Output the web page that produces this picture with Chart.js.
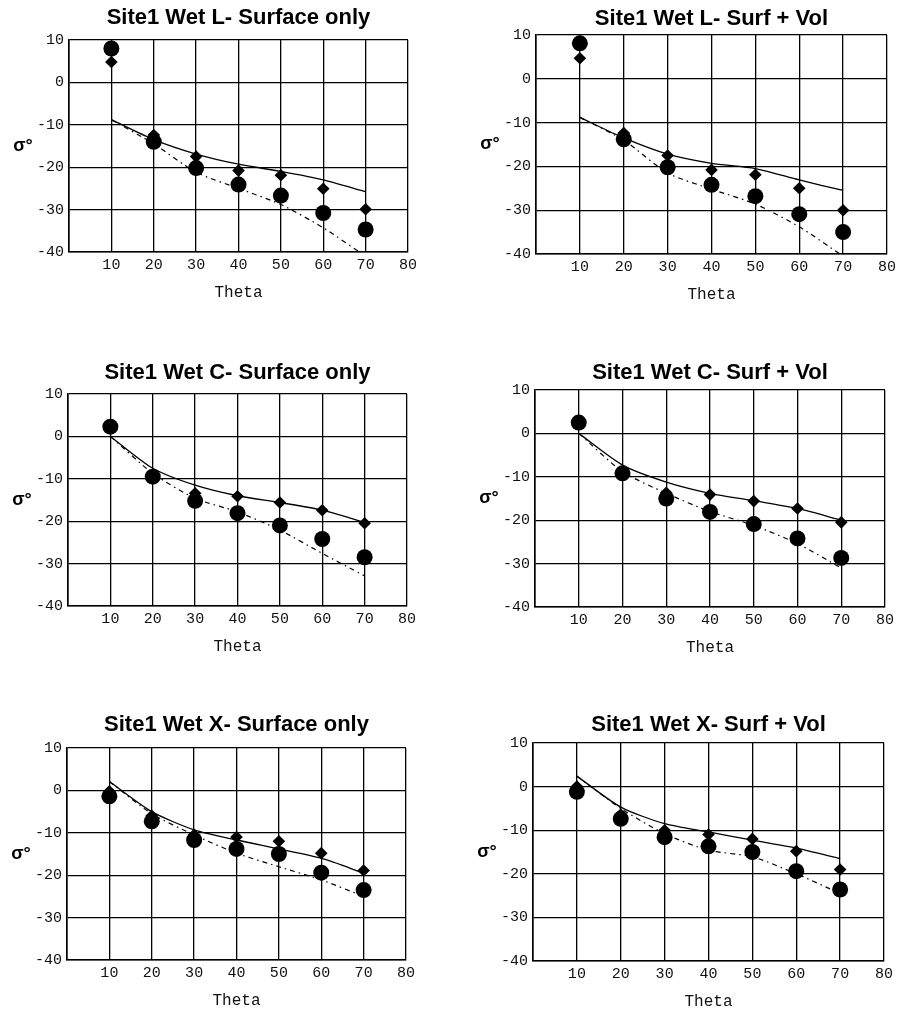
<!DOCTYPE html>
<html>
<head>
<meta charset="utf-8">
<script src="https://cdn.jsdelivr.net/npm/chart.js@4.4.0/dist/chart.umd.min.js"></script>
<style>
  html, body { margin: 0; padding: 0; background: #fff; overflow: hidden; width: 898px; height: 1011px; }
  canvas { position: absolute; }
</style>
</head>
<body>
<canvas id="c1"></canvas>
<canvas id="c2"></canvas>
<canvas id="c3"></canvas>
<canvas id="c4"></canvas>
<canvas id="c5"></canvas>
<canvas id="c6"></canvas>
<script>
const theta = [10, 20, 30, 40, 50, 60, 70];
const xTicks = [0, 10, 20, 30, 40, 50, 60, 70, 80];
const yTicks = [-40, -30, -20, -10, 0, 10];

// L band
const lSurfCircles  = [8, -14, -20.2, -24.1, -26.7, -30.8, -34.7];
const lSurfDiamonds = [4.8, -12.4, -17.5, -20.8, -21.9, -25.1, -29.9];
const lSurfSolid    = [-8.8, -13.5, -16.9, -19.3, -21, -23, -25.8];
const lSurfDashed   = [-8.8, -14.5, -21.2, -25, -28.8, -34.3, -41];

const lVolCircles  = [8.1, -13.8, -20.2, -24.2, -26.8, -30.9, -35];
const lVolDiamonds = [4.7, -12.4, -17.5, -20.8, -21.9, -25, -30];
const lVolSolid    = [-8.8, -13.5, -17.2, -19.3, -20.5, -23.1, -25.5];
const lVolDashed   = [-8.8, -14, -21.5, -25.2, -28.6, -33.8, -40.5];

// C band
const cSurfCircles  = [2.3, -9.5, -15.2, -18.1, -21, -24.2, -28.5];
const cSurfDiamonds = [2.3, -9, -13.4, -14.1, -15.6, -17.4, -20.5];
const cSurfSolid    = [0, -7.5, -11.5, -14, -15.6, -17.4, -20.3];
const cSurfDashed   = [0, -8.7, -14.6, -17.8, -22.1, -27.6, -32.9];

const cVolCircles  = [2.5, -9.2, -15, -18.1, -20.9, -24.2, -28.7];
const cVolDiamonds = [2.5, -9, -13.7, -14.1, -15.6, -17.3, -20.5];
const cVolSolid    = [0, -7.3, -11.2, -13.8, -15.5, -17.3, -20];
const cVolDashed   = [0, -8.8, -13.8, -18, -21.2, -25.4, -31];

// X band
const xSurfCircles  = [-1.4, -7.3, -11.7, -13.8, -15, -19.4, -23.5];
const xSurfDiamonds = [-0.2, -6, -10.5, -11, -12, -14.8, -18.9];
const xSurfSolid    = [2.1, -5, -9.3, -11.7, -13.8, -16, -19.5];
const xSurfDashed   = [2.1, -5.5, -10.5, -14.8, -18, -21.1, -25];

const xVolCircles  = [-1.2, -7.4, -11.6, -13.7, -15, -19.4, -23.6];
const xVolDiamonds = [0, -6.4, -10, -11, -12, -14.8, -19];
const xVolSolid    = [2.4, -4.7, -8.5, -10.4, -12.3, -14.1, -16.5];
const xVolDashed   = [2.4, -5, -10.8, -14.6, -16.1, -20, -24.5];

const panels = [
  { id: 'c1', title: 'Site1 Wet L- Surface only', box: [69, 408, 40, 252], gap: 22,
    circles: lSurfCircles, diamonds: lSurfDiamonds, solid: lSurfSolid, dashed: lSurfDashed },
  { id: 'c2', title: 'Site1 Wet L- Surf + Vol', box: [536, 887, 35, 254], gap: 16,
    circles: lVolCircles, diamonds: lVolDiamonds, solid: lVolSolid, dashed: lVolDashed },
  { id: 'c3', title: 'Site1 Wet C- Surface only', box: [68, 407, 394, 606], gap: 21,
    circles: cSurfCircles, diamonds: cSurfDiamonds, solid: cSurfSolid, dashed: cSurfDashed },
  { id: 'c4', title: 'Site1 Wet C- Surf + Vol', box: [535, 885, 390, 607], gap: 17,
    circles: cVolCircles, diamonds: cVolDiamonds, solid: cVolSolid, dashed: cVolDashed },
  { id: 'c5', title: 'Site1 Wet X- Surface only', box: [67, 406, 748, 960], gap: 23,
    circles: xSurfCircles, diamonds: xSurfDiamonds, solid: xSurfSolid, dashed: xSurfDashed },
  { id: 'c6', title: 'Site1 Wet X- Surf + Vol', box: [533, 884, 743, 961], gap: 18,
    circles: xVolCircles, diamonds: xVolDiamonds, solid: xVolSolid, dashed: xVolDashed }
];

const SIDE = 60, TOP = 40, XAXIS = 55;
const monoFont = '"Liberation Mono", "DejaVu Sans Mono", monospace';

const sigmaLabel = {
  id: 'sigmaLabel',
  afterDraw(chart) {
    const a = chart.chartArea;
    const ctx = chart.ctx;
    ctx.save();
    ctx.fillStyle = '#000';
    ctx.font = 'bold 18px "Liberation Sans", Arial, sans-serif';
    ctx.textAlign = 'center';
    ctx.textBaseline = 'middle';
    ctx.fillText('σ°', a.left - 46, (a.top + a.bottom) / 2);
    ctx.restore();
  }
};

function pts(vals) {
  return theta.map((t, i) => ({ x: t, y: vals[i] }));
}

panels.forEach(p => {
  const [L, R, T, B] = p.box;
  const canvas = document.getElementById(p.id);
  canvas.width = (R - L) + 2 * SIDE;
  canvas.height = TOP + (B - T) + XAXIS;
  canvas.style.left = (L - SIDE) + 'px';
  canvas.style.top = (T - TOP) + 'px';

  const titleSize = 22, lh = titleSize * 1.2;
  const padTop = TOP - p.gap - lh / 2;
  const padBottom = TOP - lh - padTop;

  new Chart(canvas.getContext('2d'), {
    type: 'line',
    data: {
      datasets: [
        { data: pts(p.circles), showLine: false, pointStyle: 'circle', pointRadius: 8,
          pointBackgroundColor: '#000', pointBorderColor: '#000', pointBorderWidth: 0, order: 0 },
        { data: pts(p.diamonds), showLine: false, pointStyle: 'rectRot', pointRadius: 6.3,
          pointBackgroundColor: '#000', pointBorderColor: '#000', pointBorderWidth: 0, order: 1 },
        { data: pts(p.solid), borderColor: '#000', borderWidth: 1.3, pointRadius: 0,
          tension: 0.25, order: 2 },
        { data: pts(p.dashed), borderColor: '#000', borderWidth: 1.2, pointRadius: 0,
          borderDash: [5, 4, 1.5, 4], tension: 0.25, order: 3 }
      ]
    },
    options: {
      responsive: false,
      animation: false,
      layout: { padding: 0 },
      plugins: {
        legend: { display: false },
        tooltip: { enabled: false },
        title: {
          display: true,
          text: p.title,
          color: '#000',
          font: { family: '"Liberation Sans", Arial, sans-serif', size: titleSize, weight: 'bold', lineHeight: 1.2 },
          padding: { top: padTop, bottom: padBottom }
        }
      },
      scales: {
        x: {
          type: 'linear',
          min: 0, max: 80,
          afterBuildTicks: s => { s.ticks = xTicks.map(v => ({ value: v })); },
          afterFit: s => { s.height = XAXIS; },
          grid: { color: '#000', lineWidth: 1.3, drawTicks: false },
          border: { color: '#000', width: 1.6 },
          ticks: {
            color: '#111', padding: 4, maxRotation: 0,
            font: { family: monoFont, size: 15 },
            callback: v => (v === 0 ? '' : v)
          },
          title: {
            display: true, text: 'Theta', color: '#111',
            font: { family: monoFont, size: 16, lineHeight: 1.2 },
            padding: { top: 0, bottom: 5 }
          }
        },
        y: {
          min: -40, max: 10,
          afterBuildTicks: s => { s.ticks = yTicks.map(v => ({ value: v })); },
          afterFit: s => { s.width = SIDE; },
          grid: { color: '#000', lineWidth: 1.3, drawTicks: false },
          border: { color: '#000', width: 1.6 },
          ticks: {
            color: '#111', padding: 5,
            font: { family: monoFont, size: 15 }
          }
        },
        // empty right axis, keeps the plot centred under the title
        yRight: {
          position: 'right',
          min: -40, max: 10,
          afterFit: s => { s.width = SIDE; },
          grid: { display: false, drawTicks: false },
          border: { display: false },
          ticks: { display: false }
        }
      }
    },
    plugins: [sigmaLabel]
  });
});
</script>
</body>
</html>
